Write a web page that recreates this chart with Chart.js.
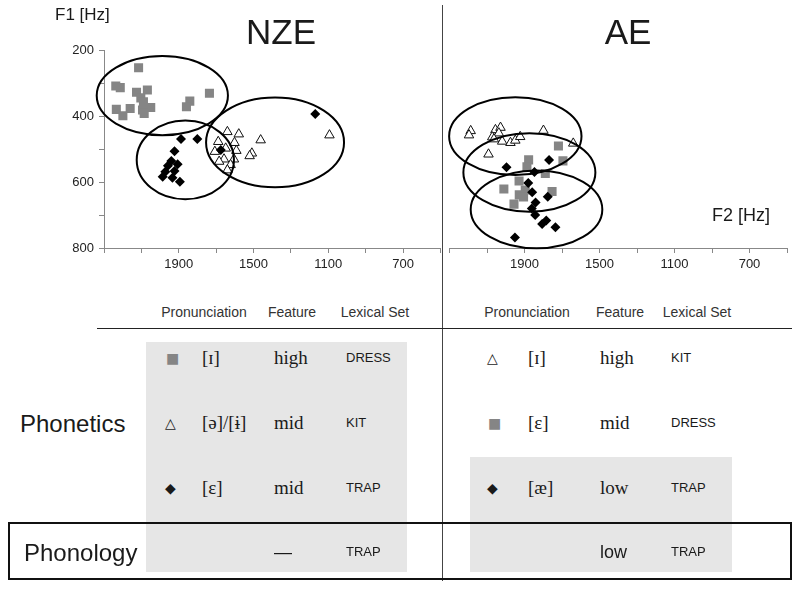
<!DOCTYPE html>
<html>
<head>
<meta charset="utf-8">
<script src="https://cdn.jsdelivr.net/npm/chart.js@4.4.1/dist/chart.umd.min.js"></script>
<style>
  body { margin: 0; background: #fff; }
  .wrapper { position: relative; width: 800px; height: 589px; overflow: hidden; font-family: "Liberation Sans", Arial, sans-serif; color: #1a1a1a; }
  canvas { position: absolute; top: 0; }
  .txt { position: absolute; white-space: nowrap; line-height: 24px; height: 24px; }
  .serif { font-family: "Liberation Serif", "DejaVu Serif", serif; font-size: 19px; }
  .set { font-size: 13px; }
  .head { font-size: 14px; color: #333; }
  .box { position: absolute; background: #e6e6e6; }
  .sym { font-family: "DejaVu Sans", sans-serif; font-size: 14px; }
</style>
</head>
<body>
<div class="wrapper">
  <div class="box" style="left:146px;top:342px;width:261px;height:230px"></div>
  <div class="box" style="left:470px;top:457px;width:262px;height:115px"></div>

  <canvas id="nze" width="447" height="280" style="left:0"></canvas>
  <canvas id="ae" width="357" height="280" style="left:443px"></canvas>

  <div style="position:absolute;left:442px;top:5px;width:1px;height:576px;background:#444"></div>
  <div style="position:absolute;left:97px;top:328px;width:695px;height:1px;background:#222"></div>
  <div style="position:absolute;left:8px;top:522px;width:780px;height:54px;border:2px solid #111"></div>

  <div class="txt" style="left:55px;top:3px;font-size:17px">F1 [Hz]</div>
  <div class="txt" style="left:712px;top:203px;font-size:18px">F2 [Hz]</div>
  <div class="txt" style="left:281px;top:12px;font-size:35px;line-height:40px;height:40px;transform:translateX(-50%)">NZE</div>
  <div class="txt" style="left:628px;top:12px;font-size:35px;line-height:40px;height:40px;transform:translateX(-50%)">AE</div>

  <div class="txt head" style="left:204px;top:300px;transform:translateX(-50%)">Pronunciation</div>
  <div class="txt head" style="left:292px;top:300px;transform:translateX(-50%)">Feature</div>
  <div class="txt head" style="left:375px;top:300px;transform:translateX(-50%)">Lexical Set</div>
  <div class="txt head" style="left:527px;top:300px;transform:translateX(-50%)">Pronunciation</div>
  <div class="txt head" style="left:620px;top:300px;transform:translateX(-50%)">Feature</div>
  <div class="txt head" style="left:697px;top:300px;transform:translateX(-50%)">Lexical Set</div>

  <div class="txt" style="left:20px;top:410px;font-size:24px;line-height:28px;height:28px">Phonetics</div>
  <div class="txt" style="left:24px;top:539px;font-size:24px;line-height:28px;height:28px">Phonology</div>

  <div class="txt sym" style="left:166px;top:346px;color:#858585">■</div>
  <div class="txt serif" style="left:202px;top:346px">[ɪ]</div>
  <div class="txt serif" style="left:274px;top:346px">high</div>
  <div class="txt set" style="left:346px;top:346px">DRESS</div>

  <div class="txt sym" style="left:165px;top:411px">△</div>
  <div class="txt serif" style="left:202px;top:411px">[ə]/[ɨ]</div>
  <div class="txt serif" style="left:274px;top:411px">mid</div>
  <div class="txt set" style="left:346px;top:411px">KIT</div>

  <div class="txt sym" style="left:165px;top:476px">◆</div>
  <div class="txt serif" style="left:202px;top:476px">[ɛ]</div>
  <div class="txt serif" style="left:274px;top:476px">mid</div>
  <div class="txt set" style="left:346px;top:476px">TRAP</div>

  <div class="txt" style="left:274px;top:540px;font-size:18px">—</div>
  <div class="txt set" style="left:346px;top:540px">TRAP</div>

  <div class="txt sym" style="left:487px;top:346px">△</div>
  <div class="txt serif" style="left:528px;top:346px">[ɪ]</div>
  <div class="txt serif" style="left:600px;top:346px">high</div>
  <div class="txt set" style="left:671px;top:346px">KIT</div>

  <div class="txt sym" style="left:488px;top:411px;color:#858585">■</div>
  <div class="txt serif" style="left:528px;top:411px">[ɛ]</div>
  <div class="txt serif" style="left:600px;top:411px">mid</div>
  <div class="txt set" style="left:671px;top:411px">DRESS</div>

  <div class="txt sym" style="left:487px;top:476px">◆</div>
  <div class="txt serif" style="left:528px;top:476px">[æ]</div>
  <div class="txt serif" style="left:600px;top:476px">low</div>
  <div class="txt set" style="left:671px;top:476px">TRAP</div>

  <div class="txt" style="left:600px;top:540px;font-size:18px">low</div>
  <div class="txt set" style="left:671px;top:540px">TRAP</div>
</div>

<script>
// NZE formant values (F2, F1 in Hz)
const nzeDressF2 = [2115, 2237, 2213, 2126, 2068, 2103, 2089, 2234, 2199, 2160, 2094, 2050, 2085, 1841, 1859, 1736];
const nzeDressF1 = [254, 309, 314, 328, 321, 345, 357, 380, 399, 377, 382, 374, 392, 355, 372, 331];
const nzeKitF2 = [1640, 1579, 1689, 1602, 1462, 1649, 1592, 1707, 1509, 1521, 1658, 1605, 1684, 1623, 1640, 1094];
const nzeKitF1 = [448, 455, 478, 481, 473, 498, 505, 508, 513, 521, 531, 531, 538, 548, 564, 458];
const nzeTrapF2 = [1888, 1801, 1923, 1940, 1906, 1958, 1972, 1986, 1934, 1923, 1894, 1675, 1170];
const nzeTrapF1 = [470, 470, 507, 536, 546, 551, 569, 584, 587, 567, 599, 503, 394];

// AE formant values
const aeKitF2 = [2187, 2196, 2055, 2028, 2037, 2072, 2063, 2019, 1975, 1949, 1923, 1799, 1640, 2092];
const aeKitF1 = [445, 458, 442, 435, 452, 464, 470, 477, 481, 474, 463, 444, 483, 516];
const aeDressF2 = [1719, 1695, 1878, 1887, 1789, 1929, 2010, 1928, 1896, 1753, 1956, 1905];
const aeDressF1 = [491, 536, 533, 554, 574, 597, 621, 639, 624, 629, 667, 645];
const aeTrapF2 = [1769, 1996, 1847, 1880, 1859, 1776, 1841, 1861, 1843, 1784, 1806, 1735, 1951];
const aeTrapF1 = [533, 555, 570, 603, 631, 645, 662, 680, 700, 717, 727, 737, 768];

// ellipses: centre F2, centre F1, half width (Hz), half height (Hz)
const nzeEllipseF2 = [1988, 1865, 1385];
const nzeEllipseF1 = [338, 533, 480];
const nzeEllipseW = [351, 260, 369];
const nzeEllipseH = [120, 119, 136];
const aeEllipseF2 = [1949, 1874, 1836];
const aeEllipseF1 = [461, 571, 683];
const aeEllipseW = [353, 352, 351];
const aeEllipseH = [118, 119, 118];

const xLabels = [1900, 1500, 1100, 700];
const yLabels = [200, 400, 600, 800];

const $nze = document.querySelector("#nze");
const $ae = document.querySelector("#ae");

function toPoints(xs, ys)
{
  return xs.map((x, i) => ({ x: x, y: ys[i] }));
}

function makeDatasets(trapF2, trapF1, kitF2, kitF1, dressF2, dressF1)
{
  return [
    {
      data: toPoints(trapF2, trapF1),
      pointStyle: 'rectRot',
      pointRadius: 5,
      backgroundColor: '#000',
      borderColor: '#000',
      borderWidth: 0
    },
    {
      data: toPoints(kitF2, kitF1),
      pointStyle: 'triangle',
      pointRadius: 5.5,
      backgroundColor: '#fff',
      borderColor: '#111',
      borderWidth: 1
    },
    {
      data: toPoints(dressF2, dressF1),
      pointStyle: 'rect',
      pointRadius: 6.4,
      backgroundColor: '#858585',
      borderColor: '#858585',
      borderWidth: 0
    }
  ];
}

function ellipsePlugin(cxs, cys, ws, hs)
{
  return {
    id: 'ellipses',
    afterDatasetsDraw(chart)
    {
      let ctx = chart.ctx;
      let xs = chart.scales.x;
      let ys = chart.scales.y;
      ctx.save();
      ctx.strokeStyle = '#000';
      ctx.lineWidth = 2;
      cxs.forEach((cx, i) =>
      {
        let px = xs.getPixelForValue(cx);
        let py = ys.getPixelForValue(cys[i]);
        let rx = Math.abs(xs.getPixelForValue(cx + ws[i]) - px);
        let ry = Math.abs(ys.getPixelForValue(cys[i] + hs[i]) - py);
        ctx.beginPath();
        ctx.ellipse(px, py, rx, ry, 0, 0, Math.PI * 2);
        ctx.stroke();
      });
      ctx.restore();
    }
  };
}

let tickFont = { family: "'Liberation Sans', sans-serif", size: 13 };

function makeConfig(datasets, showY, padding, plugin)
{
  return {
    type: 'scatter',
    data: { datasets: datasets },
    plugins: [plugin],
    options: {
      responsive: false,
      animation: false,
      layout: { padding: padding },
      plugins: { legend: { display: false }, tooltip: { enabled: false } },
      scales: {
        x: {
          type: 'linear',
          min: 500,
          max: 2300,
          reverse: true,
          afterFit: scale => { scale.height = 32; },
          ticks: {
            stepSize: 200,
            autoSkip: false,
            maxRotation: 0,
            color: '#222',
            font: tickFont,
            padding: 4,
            callback: v => xLabels.includes(v) ? String(v) : ''
          },
          grid: { drawOnChartArea: false, tickLength: 5, color: '#888' },
          border: { color: '#888', width: 1 }
        },
        y: {
          type: 'linear',
          min: 200,
          max: 800,
          reverse: true,
          display: showY,
          afterFit: scale => { if (showY) scale.width = 104; },
          ticks: {
            stepSize: 100,
            autoSkip: false,
            color: '#222',
            font: tickFont,
            padding: 5,
            callback: v => yLabels.includes(v) ? String(v) : ''
          },
          grid: { drawOnChartArea: false, tickLength: 5, color: '#888' },
          border: { color: '#888', width: 1 }
        }
      }
    }
  };
}

new Chart($nze, makeConfig(
  makeDatasets(nzeTrapF2, nzeTrapF1, nzeKitF2, nzeKitF1, nzeDressF2, nzeDressF1),
  true,
  { left: 0, top: 50, right: 1, bottom: 0 },
  ellipsePlugin(nzeEllipseF2, nzeEllipseF1, nzeEllipseW, nzeEllipseH)
));

new Chart($ae, makeConfig(
  makeDatasets(aeTrapF2, aeTrapF1, aeKitF2, aeKitF1, aeDressF2, aeDressF1),
  false,
  { left: 4, top: 50, right: 13, bottom: 0 },
  ellipsePlugin(aeEllipseF2, aeEllipseF1, aeEllipseW, aeEllipseH)
));
</script>
</body>
</html>
